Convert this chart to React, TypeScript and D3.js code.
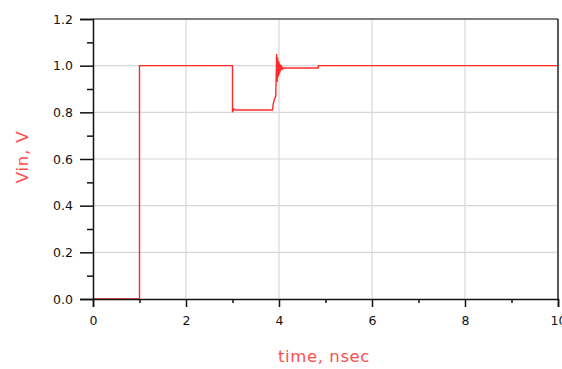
import { useEffect, useRef } from 'react';
import * as d3 from 'd3';

// Vin transient, time in nsec
const timeNs = [0, 1, 1, 3.0, 3.0, 3.03, 3.06, 3.86, 3.88, 3.9, 3.93, 3.95, 3.96, 3.97, 3.98, 3.99, 4.0, 4.01, 4.02, 4.03, 4.04, 4.06, 4.08, 4.1, 4.15, 4.84, 4.85, 10];
const vin = [0, 0, 1.0, 1.0, 0.8, 0.815, 0.81, 0.81, 0.84, 0.855, 0.87, 1.05, 0.93, 1.035, 0.95, 1.02, 0.96, 1.01, 0.97, 1.005, 0.98, 0.995, 0.985, 0.99, 0.99, 0.99, 1.0, 1.0];

const xTicks = [0, 2, 4, 6, 8, 10];
const xMinor = [1, 3, 5, 7, 9];
const yTicks = [0, 0.2, 0.4, 0.6, 0.8, 1.0, 1.2];
const yMinor = [0.1, 0.3, 0.5, 0.7, 0.9, 1.1];

export default function App() {
  const svgRef = useRef<SVGSVGElement>(null);

  useEffect(() => {
    if (!svgRef.current) return;
    const svg = d3.select(svgRef.current);
    svg.selectAll('*').remove();

    const left = 93, right = 558, top = 19, bottom = 299;
    const x = d3.scaleLinear().domain([0, 10]).range([left, right]);
    const y = d3.scaleLinear().domain([0, 1.2]).range([bottom, top]);
    const font = '"DejaVu Sans", Verdana, sans-serif';

    // grid
    svg.append('g')
      .selectAll('line')
      .data(xTicks.filter(t => t > 0 && t < 10))
      .join('line')
      .attr('x1', d => x(d)).attr('x2', d => x(d))
      .attr('y1', top).attr('y2', bottom)
      .attr('stroke', '#d8d8d8').attr('stroke-width', 1.2);
    svg.append('g')
      .selectAll('line')
      .data(yTicks.filter(t => t > 0 && t < 1.2))
      .join('line')
      .attr('x1', left).attr('x2', right)
      .attr('y1', d => y(d)).attr('y2', d => y(d))
      .attr('stroke', '#d8d8d8').attr('stroke-width', 1.2);

    // frame
    svg.append('line').attr('x1', left).attr('x2', right).attr('y1', top).attr('y2', top)
      .attr('stroke', '#555').attr('stroke-width', 1.5);
    svg.append('line').attr('x1', right).attr('x2', right).attr('y1', top).attr('y2', bottom)
      .attr('stroke', '#222').attr('stroke-width', 1.5);

    // signal
    const line = d3.line<number>()
      .x((_, i) => x(timeNs[i]))
      .y(d => y(d));
    svg.append('path')
      .datum(vin)
      .attr('d', line)
      .attr('fill', 'none')
      .attr('stroke', '#ff2a2a')
      .attr('stroke-width', 1.4);

    // axes
    const xAxis = svg.append('g').attr('transform', `translate(0,${bottom})`)
      .call(d3.axisBottom(x).tickValues(xTicks).tickSize(8).tickPadding(9).tickFormat(d => String(d)));
    svg.append('g').attr('transform', `translate(0,${bottom})`)
      .call(d3.axisBottom(x).tickValues(xMinor).tickSize(4).tickFormat(() => ''))
      .select('.domain').remove();
    const yAxis = svg.append('g').attr('transform', `translate(${left},0)`)
      .call(d3.axisLeft(y).tickValues(yTicks).tickSize(13).tickPadding(7).tickFormat(d3.format('.1f')));
    svg.append('g').attr('transform', `translate(${left},0)`)
      .call(d3.axisLeft(y).tickValues(yMinor).tickSize(6).tickFormat(() => ''))
      .select('.domain').remove();

    [xAxis, yAxis].forEach(g => {
      g.selectAll('text').style('font-family', font).style('font-size', '12.5px').attr('fill', '#111');
      g.selectAll('line, path').attr('stroke', '#111').attr('stroke-width', 1.5);
    });
    svg.selectAll('g line').filter(function () { return (this as Element).getAttribute('stroke') === 'currentColor'; })
      .attr('stroke', '#111').attr('stroke-width', 1.5);

    // labels
    svg.append('text')
      .attr('x', 324).attr('y', 362)
      .attr('text-anchor', 'middle')
      .style('font-family', font).style('font-size', '16.5px')
      .style('letter-spacing', '0.6px')
      .attr('fill', '#ff4d4d')
      .text('time, nsec');
    svg.append('text')
      .attr('transform', 'translate(28,157) rotate(-90)')
      .attr('text-anchor', 'middle')
      .style('font-family', font).style('font-size', '16.5px')
      .style('letter-spacing', '0.8px')
      .attr('fill', '#ff4d4d')
      .text('Vin, V');
  }, []);

  return (
    <svg ref={svgRef} width={562} height={369}
      style={{ position: 'absolute', left: 0, top: 0, background: '#fff' }} />
  );
}
